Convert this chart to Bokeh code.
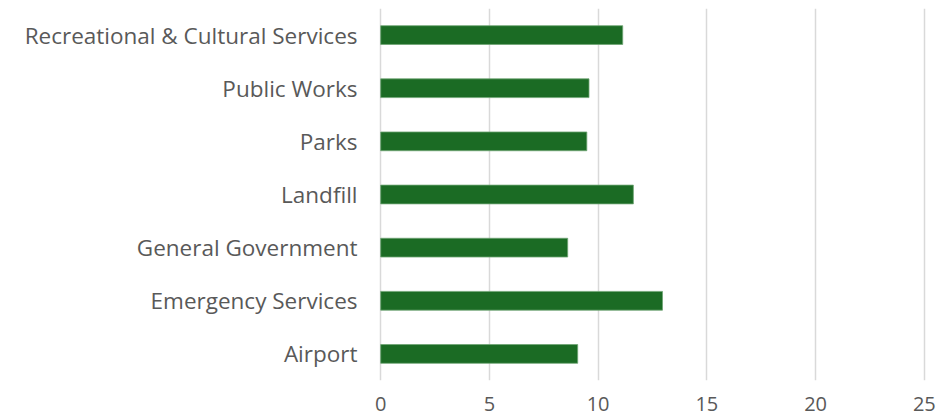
from bokeh.plotting import figure
from bokeh.models import FixedTicker, Range1d, ColumnDataSource
from bokeh.embed import file_html
from bokeh.resources import INLINE

categories = ["Airport", "Emergency Services", "General Government", "Landfill",
              "Parks", "Public Works", "Recreational & Cultural Services"]
values = [9.06, 12.96, 8.60, 11.62, 9.48, 9.58, 11.13]
x_ticks = [0, 5, 10, 15, 20, 25]

source = ColumnDataSource(data=dict(cat=categories, val=values))

p = figure(y_range=categories, x_range=Range1d(-0.1, 25.1), width=946, height=419,
           output_backend="svg", toolbar_location=None,
           min_border_left=378, min_border_right=20, min_border_top=8, min_border_bottom=39)

p.hbar(y="cat", right="val", left=0, height=0.353, source=source,
       fill_color="#1b6b24", line_color="#6fa574", line_width=0.8)

p.outline_line_color = None
p.background_fill_color = "white"
p.border_fill_color = "white"

p.xaxis.ticker = FixedTicker(ticks=x_ticks)
p.xaxis.axis_line_color = None
p.xaxis.major_tick_line_color = None
p.xaxis.major_tick_out = 0
p.xaxis.major_tick_in = 0
p.xaxis.minor_tick_line_color = None
p.xaxis.minor_tick_out = 0
p.xaxis.major_label_text_font = "Open Sans"
p.xaxis.major_label_text_font_size = "20px"
p.xaxis.major_label_text_color = "#595959"
p.xaxis.major_label_standoff = 16

p.yaxis.axis_line_color = None
p.yaxis.major_tick_line_color = None
p.yaxis.major_tick_out = 0
p.yaxis.major_tick_in = 0
p.yaxis.minor_tick_line_color = None
p.yaxis.minor_tick_out = 0
p.yaxis.major_label_text_font = "Open Sans"
p.yaxis.major_label_text_font_size = "22.5px"
p.yaxis.major_label_text_color = "#595959"
p.yaxis.major_label_standoff = 21

p.ygrid.grid_line_color = None
p.xgrid.grid_line_color = "#d9d9d9"
p.xgrid.grid_line_width = 1.5

open("out.html", "w").write(file_html(p, INLINE))
